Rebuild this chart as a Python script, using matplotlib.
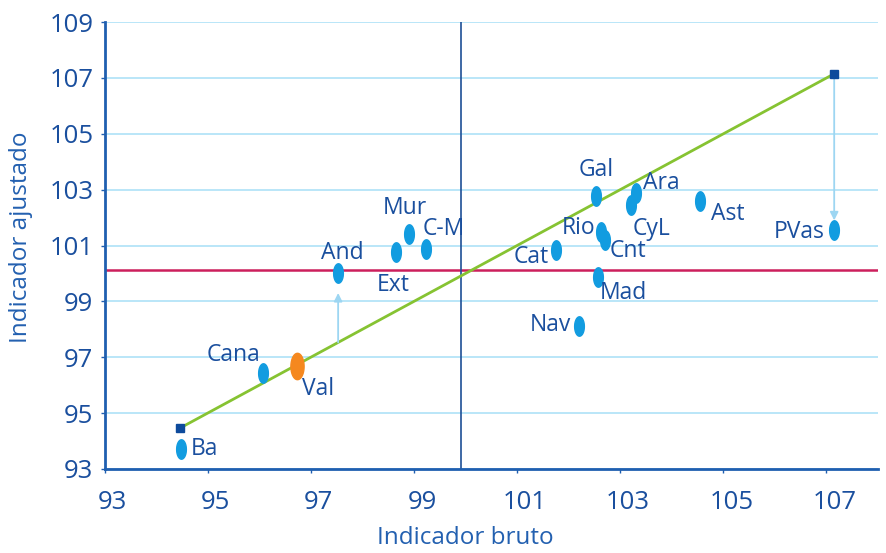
import numpy as np
import matplotlib.pyplot as plt
from matplotlib.path import Path
import matplotlib.transforms as mtransforms

# data
regions = ["Ba", "Cana", "Val", "And", "Ext", "Mur", "C-M", "Cat", "Gal",
           "Rio", "Cnt", "Ara", "CyL", "Ast", "Mad", "Nav", "PVas"]
bruto = [94.49, 96.08, 96.74, 97.53, 98.66, 98.91, 99.24, 101.75, 102.54,
         102.62, 102.70, 103.30, 103.20, 104.55, 102.56, 102.21, 107.15]
ajustado = [93.72, 96.44, 96.69, 100.01, 100.77, 101.41, 100.87, 100.84, 102.77,
            101.50, 101.20, 102.88, 102.45, 102.59, 99.87, 98.12, 101.55]
highlight = "Val"

line_x = [94.47, 107.15]          # y = x reference line ends
mean_bruto = 99.92
mean_ajustado = 100.12
arrows = [(97.53, 97.53, 99.3), (107.15, 107.15, 101.9)]  # x, from y, to y

xticks = list(range(93, 108, 2))
yticks = list(range(93, 110, 2))

# label offsets in pixels (dx, dy, ha)
offsets = {
    "Ba": (9, 0, "left"), "Cana": (-30, 18, "center"), "Val": (21, -23, "center"),
    "And": (4, 20, "center"), "Ext": (-3, -33, "center"), "Mur": (-4, 26, "center"),
    "C-M": (17, 20, "center"), "Cat": (-25, -7, "center"), "Gal": (0, 26, "center"),
    "Rio": (-22, 4, "center"), "Cnt": (23, -11, "center"), "Ara": (26, 10, "center"),
    "CyL": (21, -24, "center"), "Ast": (28, -13, "center"), "Mad": (26, -16, "center"),
    "Nav": (-29, 1, "center"), "PVas": (-35, -2, "center"),
}

dark = "#1a4f9e"
axis_c = "#1f5fb0"
dot = "#129ce0"
orange = "#f5881f"
grid_c = "#aee2f7"

plt.rcParams["font.family"] = ["Open Sans", "DejaVu Sans"]

# tall ellipse marker
t = np.linspace(0, 2 * np.pi, 60)
ellipse = Path(np.column_stack([0.5 * np.cos(t), np.sin(t)]), closed=True)

fig = plt.figure(figsize=(8.86, 5.53), dpi=100)
ax = fig.add_axes([0.118, 0.152, 0.873, 0.808])

ax.set_xlim(93, 108)
ax.set_ylim(93, 109)
ax.set_yticks(yticks)
ax.set_xticks(xticks)
ax.grid(axis="y", color=grid_c, lw=1.2)
ax.set_axisbelow(True)

ax.axhline(mean_ajustado, color="#cc1f5c", lw=1.8, zorder=2)
ax.axvline(mean_bruto, color="#1e4f96", lw=1.2, zorder=2)
ax.plot(line_x, line_x, color="#86c332", lw=2, zorder=3)
ax.plot(line_x, line_x, ls="none", marker="s", ms=6, color="#0d4a9c", zorder=4)

for x, y0, y1 in arrows:
    ax.annotate("", xy=(x, y1), xytext=(x, y0),
                arrowprops=dict(arrowstyle="-|>", color="#9dd6f2", lw=1.3,
                                mutation_scale=12, shrinkA=0, shrinkB=0),
                zorder=3)

for name, x, y in zip(regions, bruto, ajustado):
    if name == highlight:
        ax.plot(x, y, marker=ellipse, ms=19, color=orange, ls="none", zorder=5)
    else:
        ax.plot(x, y, marker=ellipse, ms=14, color=dot, ls="none", zorder=5)
    dx, dy, ha = offsets[name]
    ax.annotate(name, (x, y), xytext=(dx, dy), textcoords="offset pixels",
                ha=ha, va="center", fontsize=16.5, color=dark, zorder=6)

for s in ["top", "right"]:
    ax.spines[s].set_visible(False)
for s in ["left", "bottom"]:
    ax.spines[s].set_color(axis_c)
    ax.spines[s].set_linewidth(2)

ax.tick_params(colors=axis_c, labelcolor=dark, labelsize=18.5, length=3, width=1)
ax.tick_params(axis="x", pad=12)
ax.tick_params(axis="y", pad=5)
shift = mtransforms.ScaledTranslation(0.08, 0, fig.dpi_scale_trans)
for lab in ax.get_xticklabels():
    lab.set_transform(lab.get_transform() + shift)

ax.set_xlabel("Indicador bruto", fontsize=17.5, color="#2360b0")
ax.set_ylabel("Indicador ajustado", fontsize=17.5, color="#2360b0")
ax.xaxis.set_label_coords(0.466, -0.128)
ax.yaxis.set_label_coords(-0.092, 0.519)

fig.savefig("out.png", dpi=100)
